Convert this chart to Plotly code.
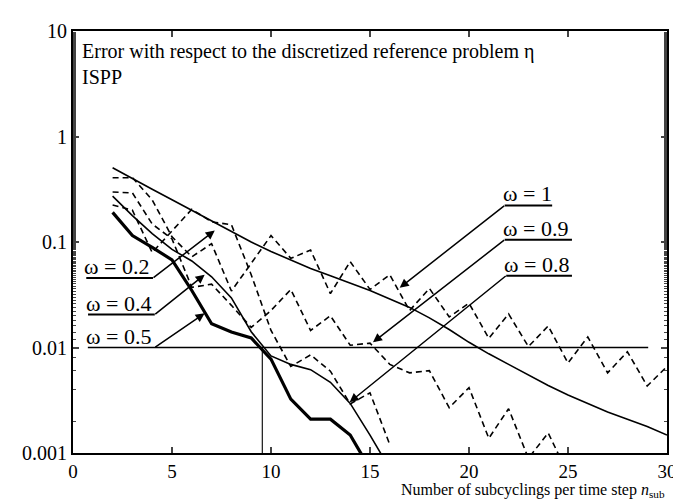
import math
import plotly.graph_objects as go

# ---------------- data ----------------
n_sub = list(range(2, 31))

err_w02 = [0.506, 0.398, 0.316, 0.251, 0.200, 0.158, 0.126, 0.100, 0.0813, 0.0676,
           0.0562, 0.0479, 0.0407, 0.0347, 0.0288, 0.0240, 0.0191, 0.0148, 0.0112,
           0.00871, 0.00692, 0.00550, 0.00437, 0.00355, 0.00295, 0.00245, 0.00209,
           0.00178, 0.00148]
err_w04 = [0.272, 0.178, 0.120, 0.0851, 0.0661, 0.0468, 0.0295, 0.0141, 0.00832,
           0.00692, 0.00617, 0.00468, 0.00295, 0.00148, 0.000708]
err_w05 = [0.191, 0.115, 0.0891, 0.0676, 0.0347, 0.0168, 0.0140, 0.0123, 0.00776,
           0.00324, 0.00209, 0.00209, 0.00148, 0.000708]
err_w1 = [0.407, 0.407, 0.251, 0.112, 0.0724, 0.0964, 0.0343, 0.0631, 0.115, 0.0700,
          0.0838, 0.0324, 0.0652, 0.0355, 0.0490, 0.0224, 0.0363, 0.0195, 0.0263,
          0.0122, 0.0208, 0.0102, 0.0160, 0.00713, 0.0126, 0.00575, 0.00912,
          0.00432, 0.00661]
err_w09 = [0.298, 0.292, 0.148, 0.107, 0.0372, 0.0398, 0.0251, 0.0155, 0.0224, 0.0355,
           0.0145, 0.0200, 0.0105, 0.0110, 0.00692, 0.00575, 0.00603, 0.00269,
           0.00417, 0.00138, 0.00263, 0.000891, 0.00155, 0.000631]
err_w08 = [0.224, 0.200, 0.0794, 0.126, 0.204, 0.155, 0.146, 0.0490, 0.0145, 0.00661,
           0.00851, 0.00596, 0.00292, 0.00372, 0.00120]

tol = 0.01
n_tol = 9.56
tol_line_x = [0.75, 29.05]

x_ticks = [0, 5, 10, 15, 20, 25, 30]
y_ticks = [0.001, 0.01, 0.1, 1, 10]
y_ticktext = ["0.001", "0.01", "0.1", "1", "10"]

# label: (text, tip_n, tip_err, tail_n, tail_err, underline_end_n)
labels_right = [("ω = 1", 16.5, 0.0368, 21.8, 0.222, 24.2),
                ("ω = 0.9", 15.15, 0.0112, 21.8, 0.105, 25.2),
                ("ω = 0.8", 13.97, 0.00303, 21.88, 0.048, 25.2)]
labels_left = [("ω = 0.2", 7.16, 0.1285, 4.04, 0.0456, 0.67),
               ("ω = 0.4", 6.65, 0.049, 4.13, 0.0205, 0.76),
               ("ω = 0.5", 6.65, 0.0211, 4.13, 0.01, 0.76)]

FONT = "Liberation Serif"
fig = go.Figure()

def line(x, y, width=1.5, dash="solid"):
    fig.add_trace(go.Scatter(x=x, y=y, mode="lines", showlegend=False,
                             line=dict(color="black", width=width, dash=dash),
                             hoverinfo="skip"))

line(n_sub[:len(err_w02)], err_w02, 1.6)
line(n_sub[:len(err_w04)], err_w04, 1.6)
line(n_sub[:len(err_w05)], err_w05, 3.2)
line(n_sub[:len(err_w1)], err_w1, 1.6, "6px,4px")
line(n_sub[:len(err_w09)], err_w09, 1.6, "6px,4px")
line(n_sub[:len(err_w08)], err_w08, 1.6, "6px,4px")

# tolerance reference lines
line(tol_line_x, [tol, tol], 1.3)
line([n_tol, n_tol], [tol, 0.001], 1.1)

annotations = []
for text, tn, te, an, ae, un in labels_right + labels_left:
    if text != "ω = 0.5":
        line([an, un], [ae, ae], 2.0)
    annotations.append(dict(x=tn, y=math.log10(te), xref="x", yref="y",
                            ax=an, ay=math.log10(ae), axref="x", ayref="y",
                            text=" ", showarrow=True, arrowhead=2, arrowsize=1.2,
                            arrowwidth=1.5, arrowcolor="black", borderpad=0,
                            font=dict(size=1)))
    x_text = min(an, un)
    annotations.append(dict(x=x_text, y=math.log10(ae), xref="x", yref="y",
                            text=text, showarrow=False, xanchor="left",
                            yanchor="bottom", yshift=-3, xshift=-4,
                            font=dict(family=FONT, size=22, color="black")))

annotations.append(dict(x=0.012, y=0.952, xref="paper", yref="paper",
                        text="Error with respect to the discretized reference problem η",
                        showarrow=False, xanchor="left", yanchor="middle",
                        font=dict(family=FONT, size=20, color="black")))
annotations.append(dict(x=0.012, y=0.891, xref="paper", yref="paper",
                        text="ISPP", showarrow=False, xanchor="left", yanchor="middle",
                        font=dict(family=FONT, size=20, color="black")))
annotations.append(dict(x=1.0, y=-0.088, xref="paper", yref="paper",
                        text="Number of subcyclings per time step <i>n</i><sub>sub</sub>",
                        showarrow=False, xanchor="right", yanchor="middle",
                        font=dict(family=FONT, size=16, color="black")))

fig.update_layout(
    width=681, height=500,
    margin=dict(l=65, r=22, t=15, b=55),
    paper_bgcolor="white", plot_bgcolor="white",
    annotations=annotations,
    font=dict(family=FONT, size=20, color="black"),
)
fig.update_xaxes(range=[0, 30], tickvals=x_ticks, ticks="inside", ticklen=6,
                 tickwidth=1.5, showline=True, linewidth=2, linecolor="black",
                 mirror="allticks", showgrid=False, zeroline=False,
                 tickfont=dict(family=FONT, size=19), ticklabelstandoff=0)
fig.update_yaxes(type="log", range=[-3, 1], tickvals=y_ticks, ticktext=y_ticktext,
                 ticks="inside", ticklen=6, tickwidth=1.5, showline=True, linewidth=2,
                 linecolor="black", mirror="allticks", showgrid=False, zeroline=False,
                 tickfont=dict(family=FONT, size=20),
                 minor=dict(ticks="inside", ticklen=3, tickwidth=1, showgrid=False))

fig.write_html("out.html")
